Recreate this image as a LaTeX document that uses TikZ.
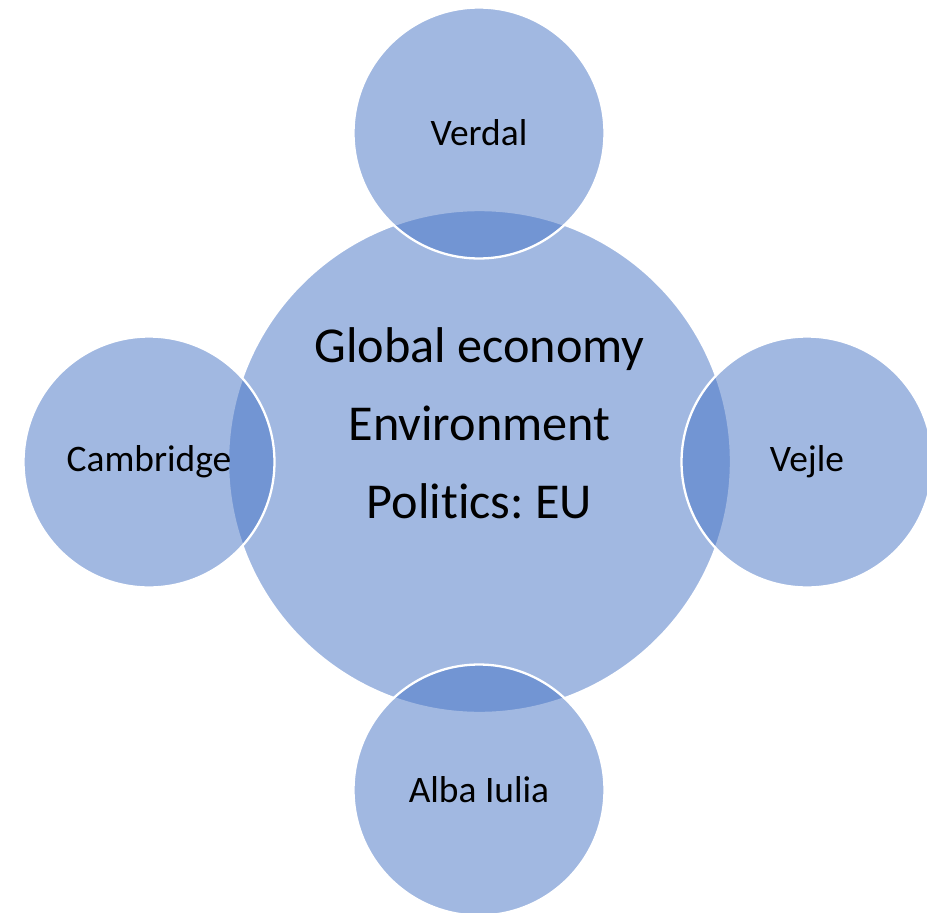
\documentclass[tikz,border=0pt]{standalone}
\usepackage{fontspec}
\setmainfont{Carlito}[Ligatures=NoCommon]
\frenchspacing

\definecolor{officeblue}{RGB}{68,114,196}

\begin{document}
\begin{tikzpicture}[
        x=0.02cm, y=-0.02cm,
        ring/.style={circle, fill=officeblue, fill opacity=0.5, text opacity=1, draw=white, line width=1.3pt, inner sep=0pt, outer sep=0pt},
        hub/.style={ring, minimum size=10.06cm},
        spoke/.style={ring, minimum size=5.02cm, font=\fontsize{21.3}{25}\selectfont},
        topics/.style={align=center, font=\fontsize{28.6}{44.4}\selectfont}
    ]
        \useasboundingbox (0,0) rectangle (927,913);

        \node[hub] (hub) at (479.5,461.5) {};
        \node[topics] (themes) at (479.5,423) {Global economy\\Environment\\Politics: EU};

        \node[spoke] (verdal) at (479,133) {Verdal};
        \node[spoke] (cambridge) at (149,462) {Cambridge};
        \node[spoke] (vejle) at (807,462) {Vejle};
        \node[spoke] (alba) at (479,790) {Alba Iulia};
    \end{tikzpicture}
\end{document}
